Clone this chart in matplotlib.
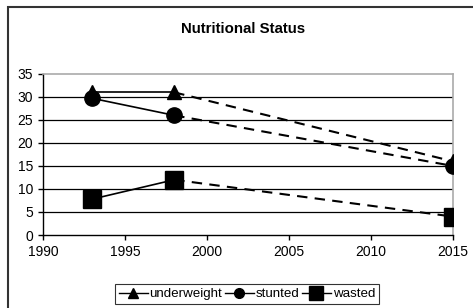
import matplotlib
matplotlib.use("Agg")
import matplotlib.pyplot as plt
from matplotlib.lines import Line2D
from matplotlib.patches import Rectangle

plt.rcParams["font.family"] = ["Liberation Sans", "DejaVu Sans"]

# data
years = [1993, 1998, 2015]
underweight = [31, 31, 16]
stunted = [29.7, 26, 15]
wasted = [7.8, 12, 4]

series = [("underweight", underweight, "^", 10, 6.5),
          ("stunted", stunted, "o", 11, 7),
          ("wasted", wasted, "s", 13, 10)]

xticks = [1990, 1995, 2000, 2005, 2010, 2015]
yticks = [0, 5, 10, 15, 20, 25, 30, 35]

fig = plt.figure(figsize=(4.73, 3.08), dpi=100)

# outer chart frame (cropped at right and bottom in the original)
fig.patches.append(Rectangle((8 / 473, -0.05), 1.2, 0.977 + 0.05,
                             transform=fig.transFigure, fill=False,
                             ec="#333333", lw=1.5))

ax = fig.add_axes([0.0909, 0.237, 0.8668, 0.523])

for name, vals, mk, ms, _ in series:
    ax.plot(years[:2], vals[:2], color="black", lw=1.2, zorder=3)
    ax.plot(years[1:], vals[1:], color="black", lw=1.5, ls=(0, (5, 3.5)),
            zorder=3)
    ax.plot(years, vals, ls="none", marker=mk, ms=ms, color="black",
            zorder=4)

ax.set_xlim(1990, 2015)
ax.set_ylim(0, 35)
ax.set_xticks(xticks)
ax.set_yticks(yticks)
ax.tick_params(direction="out", length=3.6, width=1, labelsize=10, pad=3.5)

for y in yticks[1:-1]:
    ax.axhline(y, color="black", lw=0.9, zorder=1)

for s in ("left", "bottom"):
    ax.spines[s].set_color("black")
    ax.spines[s].set_linewidth(1.0)
for s in ("top", "right"):
    ax.spines[s].set_color("#aaaaaa")
    ax.spines[s].set_linewidth(1.2)

fig.text(243 / 473, 1 - 29 / 308, "Nutritional Status", ha="center",
         va="center", fontsize=10.8, fontweight="bold")

handles = [Line2D([], [], color="black", lw=1.0, marker=mk, ms=lms)
           for _, _, mk, _, lms in series]
labels = [s[0] for s in series]
leg = fig.legend(handles, labels, loc="center", ncol=3,
                 bbox_to_anchor=(247 / 473, 1 - 294 / 308), fontsize=9.6,
                 frameon=True, fancybox=False, edgecolor="black",
                 handlelength=2.15, handletextpad=0.15, columnspacing=0.2,
                 borderpad=0.3, borderaxespad=0)
leg.get_frame().set_linewidth(0.8)

fig.savefig("out.png", dpi=100)
